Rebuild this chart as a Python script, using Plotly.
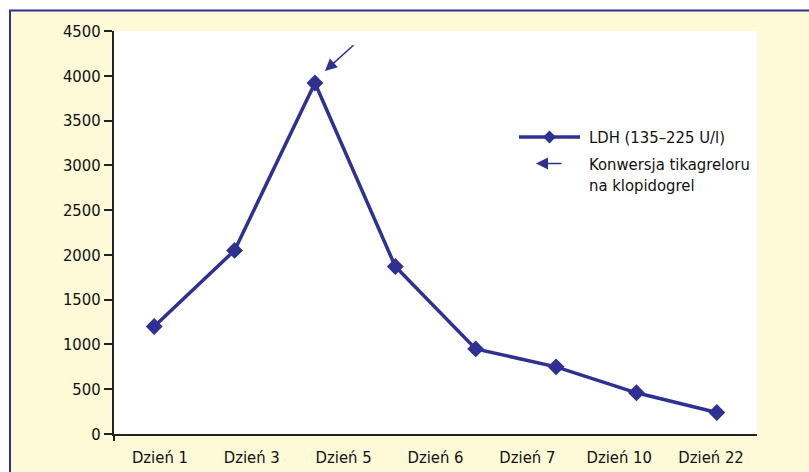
import plotly.graph_objects as go

# ---- data ----
day_labels = ["Dzień 1", "Dzień 3", "Dzień 5", "Dzień 6", "Dzień 7", "Dzień 10", "Dzień 22"]
ldh_values = [1200, 2050, 3920, 1870, 950, 750, 460, 240]
series_name = "LDH (135–225 U/l)"
arrow_label = "Konwersja tikagreloru<br>na klopidogrel"
peak_index = 2
y_ticks = list(range(0, 4501, 500))

W, H = 809, 472
ML, MR, MT, MB = 114, 52, 31, 38
PW, PH = W - ML - MR, H - MT - MB

BLUE = "#2E3192"
CREAM = "#FEF9D6"
FONT = "DejaVu Sans Condensed, sans-serif"
FS = 16.5


def px(x):
    return (x - ML) / PW


def py(y):
    return (H - MB - y) / PH


fig = go.Figure()
# category axis carrier (no visible marks)
fig.add_trace(go.Scatter(
    x=day_labels, y=[None] * len(day_labels), xaxis="x", yaxis="y",
    mode="markers", showlegend=False, hoverinfo="skip",
))
fig.add_trace(go.Scatter(
    x=list(range(len(ldh_values))), y=ldh_values,
    xaxis="x2", yaxis="y",
    mode="lines+markers",
    line=dict(color=BLUE, width=3.5),
    marker=dict(symbol="diamond", size=13, color=BLUE),
    showlegend=False, name=series_name,
))

shapes = [
    # cream panel with blue border
    dict(type="rect", xref="paper", yref="paper", layer="below",
         x0=px(10), x1=px(900), y0=py(600), y1=py(10.5),
         fillcolor=CREAM, line=dict(color=BLUE, width=2)),
    # white plot area
    dict(type="rect", xref="paper", yref="paper", layer="below",
         x0=0, x1=1, y0=0, y1=1, fillcolor="white", line=dict(width=0)),
    # small tick below axis at left end
    dict(type="line", xref="paper", yref="paper",
         x0=0, x1=0, y0=0, y1=py(441), line=dict(color="#222", width=2)),
    # legend line
    dict(type="line", xref="paper", yref="paper",
         x0=px(519), x1=px(580), y0=py(137), y1=py(137),
         line=dict(color=BLUE, width=3.5)),
    # legend diamond
    dict(type="path", xref="paper", yref="paper",
         path=f"M {px(549.5)} {py(130.5)} L {px(556)} {py(137)} L {px(549.5)} {py(143.5)} L {px(543)} {py(137)} Z",
         fillcolor=BLUE, line=dict(color=BLUE, width=0)),
]

annotations = [
    # arrow pointing at the peak
    dict(xref="x2", yref="y", x=peak_index, y=ldh_values[peak_index],
         xshift=10, yshift=12, ax=30, ay=-27, text="", showarrow=True,
         arrowhead=2, arrowsize=1.6, arrowwidth=1.5, arrowcolor=BLUE),
    # legend arrow
    dict(xref="paper", yref="paper", x=px(536), y=py(163.5), ax=27, ay=0,
         text="", showarrow=True, arrowhead=2, arrowsize=1.6, arrowwidth=1.5,
         arrowcolor=BLUE),
    dict(xref="paper", yref="paper", x=px(587), y=py(137), xanchor="left",
         yanchor="middle", text=series_name, showarrow=False,
         font=dict(family=FONT, size=FS, color="#111")),
    dict(xref="paper", yref="paper", x=px(587), y=py(175), xanchor="left",
         yanchor="middle", align="left", text=arrow_label, showarrow=False,
         font=dict(family=FONT, size=FS, color="#111")),
]

fig.update_layout(
    width=W, height=H,
    margin=dict(l=ML, r=MR, t=MT, b=MB, pad=0, autoexpand=False),
    paper_bgcolor="white", plot_bgcolor="white",
    font=dict(family=FONT, size=FS, color="#111"),
    showlegend=False,
    xaxis=dict(type="category", categoryarray=day_labels,
               range=[-0.5, len(day_labels) - 0.5],
               showline=True, linecolor="#222", linewidth=2,
               ticks="", ticklabelstandoff=7, showgrid=False, zeroline=False,
               automargin=False),
    xaxis2=dict(overlaying="x", range=[-0.5, len(ldh_values) - 0.5], visible=False),
    yaxis=dict(range=[0, 4500], tickvals=y_ticks, showline=True, linecolor="#222",
               linewidth=2, ticks="outside", ticklen=8, tickwidth=1.5, tickcolor="#222",
               showgrid=False, zeroline=False, automargin=False),
    shapes=shapes, annotations=annotations,
)

fig.write_html(
    "out.html",
    config={"displayModeBar": False},
    post_script="document.body.style.margin='0';document.body.style.overflow='hidden';",
)
